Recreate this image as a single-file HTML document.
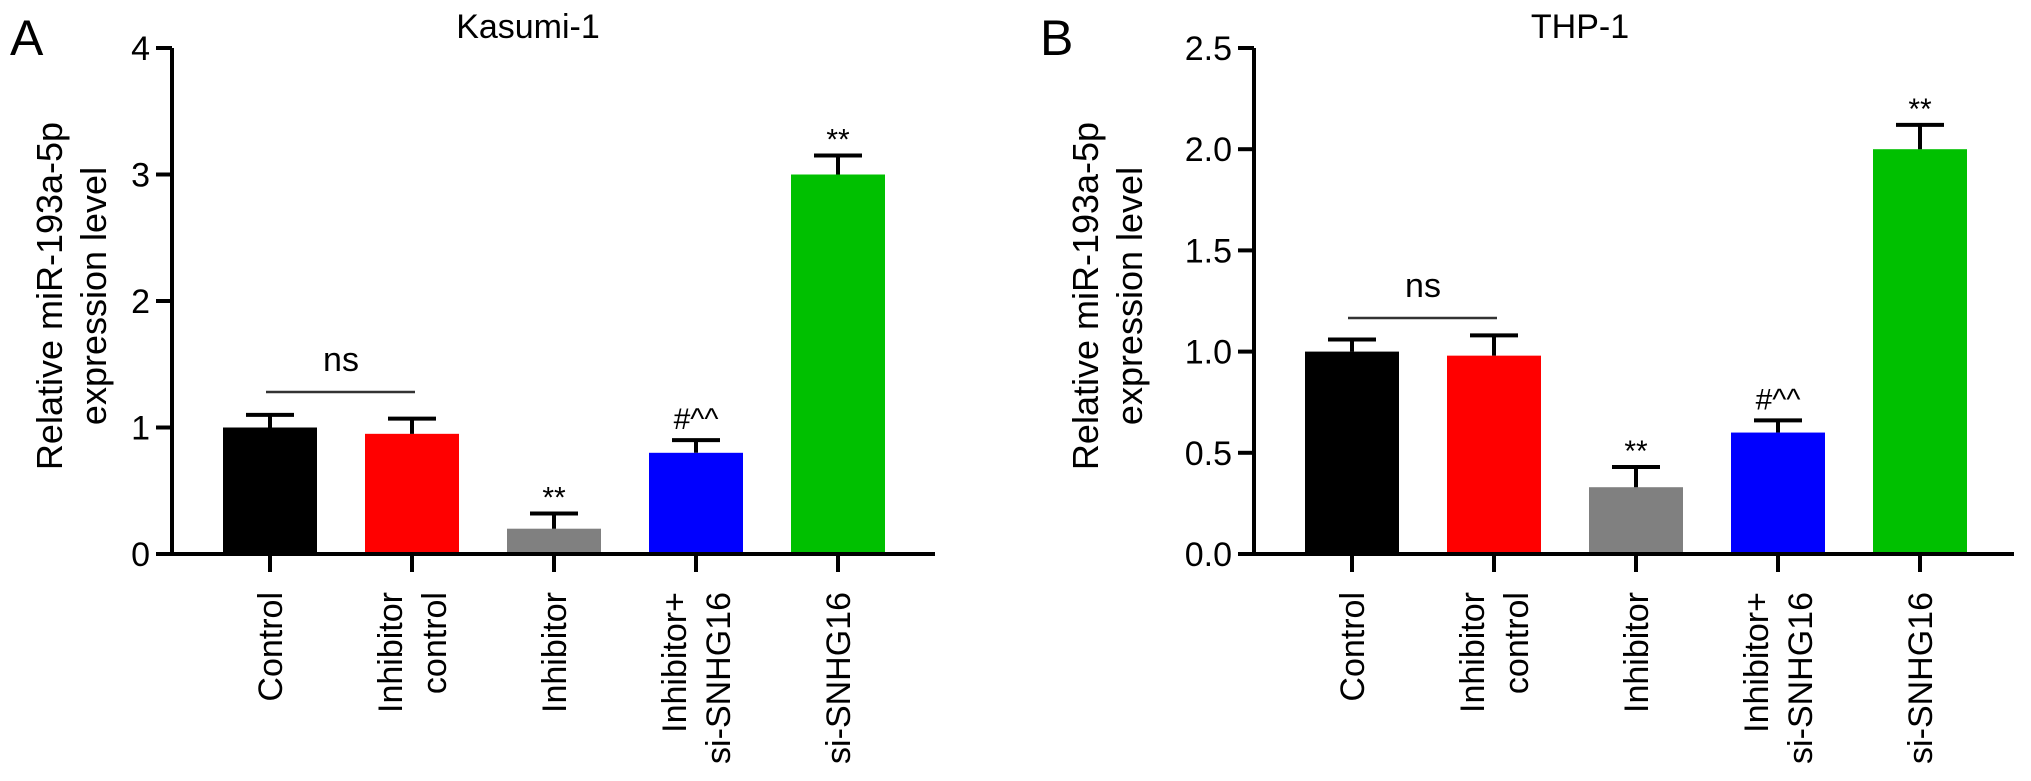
<!DOCTYPE html>
<html><head><meta charset="utf-8"><style>
body{margin:0;background:#fff;}
svg{display:block;font-family:"Liberation Sans",Arial,sans-serif;}
</style></head><body>
<svg id="chart" width="2031" height="781" viewBox="0 0 2031 781"></svg>
<script>
const categories = ["Control", "Inhibitor control", "Inhibitor", "Inhibitor+ si-SNHG16", "si-SNHG16"];
const labelLines = [["Control"], ["Inhibitor", "control"], ["Inhibitor"], ["Inhibitor+", "si-SNHG16"], ["si-SNHG16"]];
const colors = ["#000000", "#ff0000", "#808080", "#0000ff", "#00c000"];
const kasumiValues = [1.0, 0.95, 0.2, 0.8, 3.0];
const kasumiErrors = [0.1, 0.12, 0.12, 0.1, 0.15];
const kasumiAnnot = ["", "", "**", "#^^", "**"];
const kasumiTicks = ["0", "1", "2", "3", "4"];
const kasumiTickVals = [0, 1, 2, 3, 4];
const thpValues = [1.0, 0.98, 0.33, 0.6, 2.0];
const thpErrors = [0.06, 0.1, 0.1, 0.06, 0.12];
const thpAnnot = ["", "", "**", "#^^", "**"];
const thpTicks = ["0.0", "0.5", "1.0", "1.5", "2.0", "2.5"];
const thpTickVals = [0, 0.5, 1, 1.5, 2, 2.5];

const NS = "http://www.w3.org/2000/svg";
const svg = document.getElementById("chart");
function mk(tag, attrs, parent) {
  const e = document.createElementNS(NS, tag);
  for (const k in attrs) e.setAttribute(k, attrs[k]);
  (parent || svg).appendChild(e);
  return e;
}

function panel(opt) {
  const g = mk("g", {});
  
  
  const y0 = 554, yTop = 48;
  const yScale = v => y0 - (v - 0) / (opt.max - 0) * (y0 - yTop);
  const xScale = i => opt.x0 + opt.first + i * 142;
  const bw = 94;

  const L = mk("text", {x: opt.letterX, y: 55, "font-size": 50, fill: "#000"}, g);
  L.textContent = opt.letter;
  
  
  const T = mk("text", {x: opt.titleX, y: 38, "font-size": 34, "text-anchor": "middle"}, g);
  T.textContent = opt.title;
  
  
  const yt = mk("text", {transform: "translate(" + opt.ylabX + ",296) rotate(-90)", "font-size": 36, "text-anchor": "middle"}, g);
  
  
  const t1 = mk("tspan", {x: 0, y: -10}, yt); t1.textContent = "Relative miR-193a-5p";
  const t2 = mk("tspan", {x: 0, y: 34}, yt); t2.textContent = "expression level";

  opt.values.forEach((v, i) => {
    const cx = xScale(i);
    const r = mk("rect", {x: cx - bw / 2, y: yScale(v), width: bw, height: y0 - yScale(v), fill: colors[i]}, g);
    
    
    const et = yScale(v + opt.errors[i]);
    const e = mk("path", {d: "M" + cx + " " + yScale(v) + "V" + et + "M" + (cx - 24) + " " + et + "H" + (cx + 24), stroke: "#000", "stroke-width": 4, fill: "none"}, g);
    
    
    if (opt.annot[i]) {
      const star = opt.annot[i] === "**";
      const a = mk("text", {x: cx, y: star ? et - 6 : et - 11, "font-size": star ? 30 : 30, "text-anchor": "middle"}, g);
      a.textContent = opt.annot[i];
      
      
    }
    const tk = mk("line", {x1: cx, x2: cx, y1: y0, y2: y0 + 18, stroke: "#000", "stroke-width": 4}, g);
    
    
    const lines = labelLines[i];
    const xt = mk("text", {transform: "translate(" + cx + "," + (y0 + 38) + ") rotate(-90)", "font-size": 34, "text-anchor": "end"}, g);
    
    
    lines.forEach((ln, j) => {
      const off = (j - (lines.length - 1) / 2) * 44 + 12;
      const ts = mk("tspan", {x: 0, y: off}, xt);
      ts.textContent = ln;
    });
  });

  const ax = mk("path", {d: "M" + opt.x0 + " " + yTop + "V" + y0, stroke: "#000", "stroke-width": 4}, g);
  
  
  const xa = mk("path", {d: "M" + (opt.x0 - 16) + " " + y0 + "H" + opt.xEnd, stroke: "#000", "stroke-width": 4}, g);
  
  
  opt.tickVals.forEach((tv, i) => {
    const y = yScale(tv);
    const l = mk("line", {x1: opt.x0 - 16, x2: opt.x0, y1: y, y2: y, stroke: "#000", "stroke-width": 4}, g);
    
    
    const t = mk("text", {x: opt.x0 - 22, y: y + 12, "font-size": 34, "text-anchor": "end"}, g);
    t.textContent = opt.ticks[i];
    
    
  });
  const ny = opt.nsY;
  const nl = mk("line", {x1: xScale(0) - 4, x2: xScale(1) + 3, y1: ny, y2: ny, stroke: "#333", "stroke-width": 2.5}, g);
  
  
  const nt = mk("text", {x: (xScale(0) + xScale(1)) / 2, y: ny - 21, "font-size": 34, "text-anchor": "middle"}, g);
  nt.textContent = "ns";
  
  
}

panel({name: "panel-a-kasumi", letter: "A", letterX: 10, title: "Kasumi-1", titleX: 528, ylabX: 72, x0: 172, first: 98, xEnd: 935, max: 4,
  values: kasumiValues, errors: kasumiErrors, annot: kasumiAnnot, ticks: kasumiTicks, tickVals: kasumiTickVals, nsY: 392});
panel({name: "panel-b-thp", letter: "B", letterX: 1040, title: "THP-1", titleX: 1580, ylabX: 1108, x0: 1254, first: 98, xEnd: 2014, max: 2.5,
  values: thpValues, errors: thpErrors, annot: thpAnnot, ticks: thpTicks, tickVals: thpTickVals, nsY: 318});
</script>
</body></html>
